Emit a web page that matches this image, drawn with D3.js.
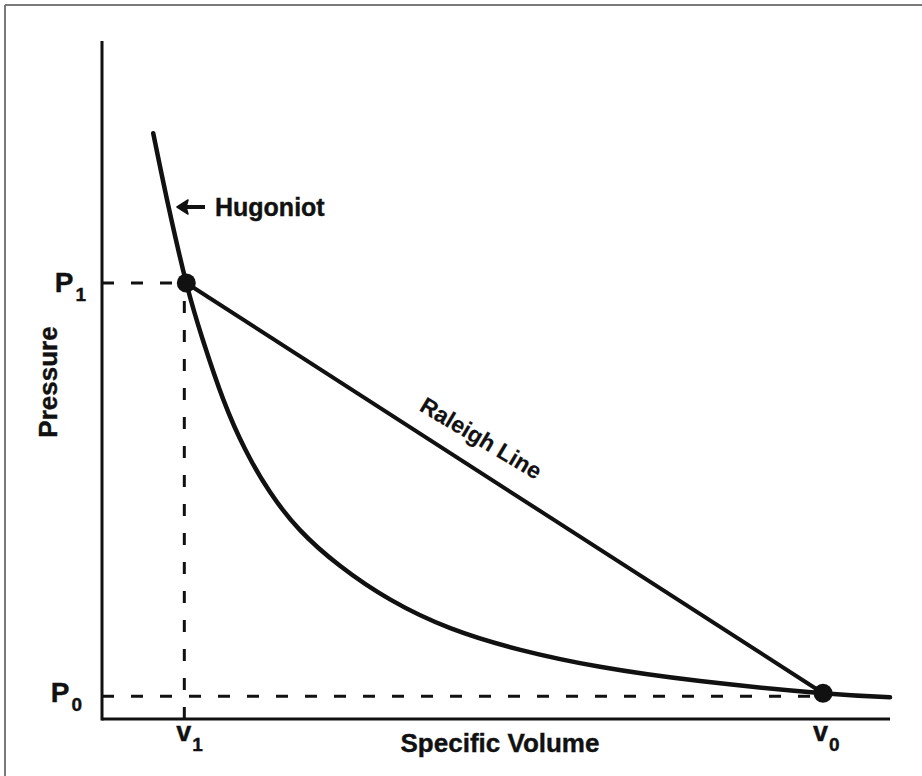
<!DOCTYPE html>
<html>
<head>
<meta charset="utf-8">
<script src="https://cdnjs.cloudflare.com/ajax/libs/d3/7.8.5/d3.min.js"></script>
<style>
  html, body { margin: 0; padding: 0; background: #fff; }
  svg { display: block; }
  text { font-family: "Liberation Sans", Arial, Helvetica, sans-serif; fill: #111; stroke: #111; stroke-width: 0.4px; }
</style>
</head>
<body>
<svg id="chart" width="922" height="776"></svg>
<script>
// Hugoniot curve (specific volume, pressure), arbitrary units
const hugoniotV = [6.5, 8.4, 10.7, 12.8, 15.4, 18.2, 21.3, 25.1, 30.2, 36.6, 44.2, 53.1, 63.2, 75.9, 91.5, 100];
const hugoniotP = [86.4, 75.8, 64.3, 55.9, 47.1, 39.7, 33.5, 27.9, 22.6, 17.6, 13.4, 10.2, 7.7, 5.6, 3.8, 3.2];

// Shocked state (1) and initial state (0)
const stateNames = ["1", "0"];
const stateV = [10.7, 91.5];
const stateP = [64.3, 3.8];

// Axis titles and curve labels
const xTitle = "Specific Volume";
const yTitle = "Pressure";
const curveLabel = "Hugoniot";
const lineLabel = "Raleigh Line";

const svg = d3.select("#chart");
const W = 922, H = 776;

// Frame edges
svg.append("line").attr("x1", 5).attr("y1", 5).attr("x2", W).attr("y2", 5)
  .attr("stroke", "#7a7a7a").attr("stroke-width", 2);
svg.append("line").attr("x1", 5).attr("y1", 5).attr("x2", 5).attr("y2", H)
  .attr("stroke", "#7a7a7a").attr("stroke-width", 2);

const x = d3.scaleLinear().domain([0, 100]).range([102, 890]);
const y = d3.scaleLinear().domain([0, 100]).range([719, 41]);

const ink = "#111";

// Axes: plain lines with no ticks
svg.append("line").attr("x1", x(0)).attr("x2", x(0)).attr("y1", y(0) + 1.5).attr("y2", y(100))
  .attr("stroke", ink).attr("stroke-width", 3);
svg.append("line").attr("x1", x(0)).attr("x2", x(100)).attr("y1", y(0)).attr("y2", y(0))
  .attr("stroke", ink).attr("stroke-width", 3);

// Dashed guide lines for the two states
const dash = "12 17";
const [v1, v0] = stateV;
const [p1, p0] = stateP;
svg.append("line").attr("x1", x(0)).attr("x2", x(v1)).attr("y1", y(p1)).attr("y2", y(p1))
  .attr("stroke", ink).attr("stroke-width", 3).attr("stroke-dasharray", dash);
svg.append("line").attr("x1", x(v1) - 2).attr("x2", x(v1) - 2).attr("y1", y(0)).attr("y2", y(p1))
  .attr("stroke", ink).attr("stroke-width", 3).attr("stroke-dasharray", dash);
svg.append("line").attr("x1", x(0)).attr("x2", x(v0)).attr("y1", y(p0) + 3).attr("y2", y(p0) + 3)
  .attr("stroke", ink).attr("stroke-width", 3).attr("stroke-dasharray", dash);

// Hugoniot curve
const hug = hugoniotV.map((v, i) => [v, hugoniotP[i]]);
svg.append("path").datum(hug)
  .attr("d", d3.line().x(d => x(d[0])).y(d => y(d[1])).curve(d3.curveNatural))
  .attr("fill", "none").attr("stroke", ink).attr("stroke-width", 4.5).attr("stroke-linecap", "round");

// Rayleigh line between the two states
svg.append("line")
  .attr("x1", x(v1)).attr("y1", y(p1)).attr("x2", x(v0)).attr("y2", y(p0))
  .attr("stroke", ink).attr("stroke-width", 4);

// State points
svg.selectAll("circle.state").data(stateV).join("circle")
  .attr("class", "state")
  .attr("cx", d => x(d)).attr("cy", (d, i) => y(stateP[i]))
  .attr("r", 9.5).attr("fill", ink);

// Pressure labels P1, P0
stateP.forEach((p, i) => {
  const t = svg.append("text").attr("x", i === 0 ? 86 : 82).attr("y", y(p) + 9)
    .attr("text-anchor", "end").attr("font-weight", "bold").attr("font-size", 28);
  t.append("tspan").text("P");
  t.append("tspan").attr("dx", 2).attr("dy", 9).attr("font-size", 19).text(stateNames[i]);
});

// Volume labels v1, v0
stateV.forEach((v, i) => {
  const t = svg.append("text").attr("x", x(v) - 10).attr("y", 741)
    .attr("font-weight", "bold").attr("font-size", 27);
  t.append("tspan").text("v");
  t.append("tspan").attr("dx", 1).attr("dy", 10).attr("font-size", 19).text(stateNames[i]);
});

// Axis titles
svg.append("text").attr("x", 500).attr("y", 752).attr("text-anchor", "middle")
  .attr("font-weight", "bold").attr("font-size", 26).text(xTitle);
svg.append("text").attr("transform", "translate(57,382) rotate(-90)").attr("text-anchor", "middle")
  .attr("font-weight", "bold").attr("font-size", 26).text(yTitle);

// Hugoniot label with arrow pointing at the curve
const ay = 207;
const ax = 177;
svg.append("line").attr("x1", ax + 6).attr("x2", ax + 28).attr("y1", ay).attr("y2", ay)
  .attr("stroke", ink).attr("stroke-width", 4);
svg.append("path")
  .attr("d", `M${ax},${ay} L${ax + 11},${ay - 7} L${ax + 9},${ay} L${ax + 11},${ay + 7} Z`)
  .attr("fill", ink).attr("stroke", ink).attr("stroke-width", 1.5).attr("stroke-linejoin", "round");
svg.append("text").attr("x", ax + 38).attr("y", ay + 9)
  .attr("font-weight", "bold").attr("font-size", 25).text(curveLabel);

// Rayleigh line label, set along the line
const ang = Math.atan2(y(p0) - y(p1), x(v0) - x(v1)) * 180 / Math.PI - 2;
svg.append("text").attr("transform", `translate(477,445) rotate(${ang})`)
  .attr("text-anchor", "middle").attr("font-weight", "bold").attr("font-size", 23)
  .style("stroke-width", "0.2px").text(lineLabel);
</script>
</body>
</html>
